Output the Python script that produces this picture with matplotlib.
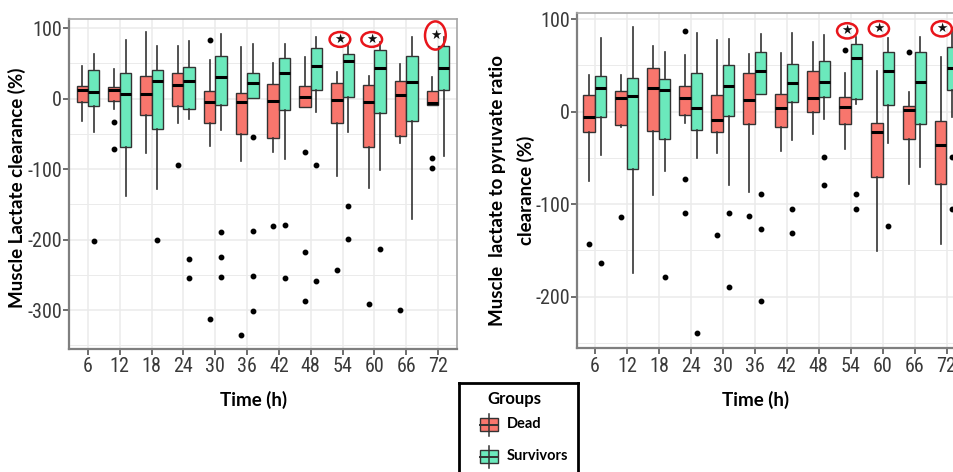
import numpy as np
import matplotlib
matplotlib.use("Agg")
import matplotlib.pyplot as plt
from matplotlib import font_manager
from matplotlib.patches import Ellipse, Rectangle

# ---------------------------------------------------------------
# data (box summaries per time point)
times = [6, 12, 18, 24, 30, 36, 42, 48, 54, 60, 66, 72]
xticks = times

# left panel: muscle lactate clearance
lac_dead_q3  = [18.5, 16.6, 32, 36.5, 11, 8, 20.4, 18, 22, 19, 25, 11]
lac_dead_q1  = [-4.3, -2.8, -22.7, -11, -34.6, -50.7, -56.4, -12.3, -35, -68.7, -52.6, -9.5]
lac_dead_med = [11.8, 12.3, 6.6, 20, -4.7, -5.2, -3.3, 2.8, -2.4, -4.7, 4.7, -5.7]
lac_dead_whi = [47, 41.7, 94, 75, 55, 73.5, 51, 58.8, 37.4, 32, 49, 31.3]
lac_dead_wlo = [-31, -14.7, -77.7, -35, -67, -89, -75, -12.3, -109.5, -126, -63.5, -9.5]
lac_dead_out = [[], [-33.6, -72], [], [-94], [83.4, -313], [-335], [-180.6],
                [-75, -217, -287], [-243], [-291], [-299], [-84, -98]]

lac_surv_q3  = [41, 37, 40.8, 44.5, 60.7, 37, 57, 72.5, 63, 69, 60.7, 75]
lac_surv_q1  = [-10.4, -68.7, -43, -14.2, -8.5, 1.4, -16, 12.3, 1.9, -21, -32, 11.8]
lac_surv_med = [9, 6.6, 24.6, 25.6, 31.3, 22.7, 37, 46, 54, 43.6, 23.7, 43.6]
lac_surv_whi = [63, 83.4, 75, 81.5, 91.5, 77, 77, 87.7, 78, 81, 87.7, 88]
lac_surv_wlo = [-47, -138, -128, -29, -44.5, 1.4, -85, -19.4, -47, -101, -170, -80.6]
lac_surv_out = [[-202], [], [-201], [-227, -255], [-189, -225, -253],
                [-55, -187, -251, -301], [-178.8, -255], [-94, -259],
                [-152, -198.6], [-212.7], [], []]

# right panel: lactate to pyruvate ratio clearance
lpr_dead_q3  = [17.6, 22.7, 47, 28, 17.6, 41.4, 19.4, 44, 16, -11.9, 6.5, -10.4]
lpr_dead_q1  = [-22, -14.4, -20.5, -3.2, -22, -13.7, -16, 0, -13.3, -70.5, -29, -77.7]
lpr_dead_med = [-6, 14.4, 26, 14.4, -9.4, 13, 4, 14.4, 5.4, -22.3, 1.8, -35.6]
lpr_dead_whi = [40, 40, 71, 61, 77, 62, 63.7, 75, 41.4, 43.5, 21, 59]
lpr_dead_wlo = [-75, -16, -90, -12, -44.6, -87, -42.8, -24, -40, -150.4, -77.7, -143]
lpr_dead_out = [[-143.5], [-113.7], [], [87.4, -72.7, -109], [-133], [-112.5],
                [], [], [66.5], [], [64.7], []]

lpr_surv_q3  = [38.5, 36.7, 35, 41.4, 50, 64.7, 51.8, 54.3, 72.7, 64.7, 64.7, 69.4]
lpr_surv_q1  = [-5.8, -62, -29.5, -19.4, -4.7, 18.7, 10.4, 16, 13.7, 7.2, -13, 23]
lpr_surv_med = [26, 17, 23.7, 4, 27.3, 44, 30.6, 31.6, 58.3, 44, 31.6, 47.5]
lpr_surv_whi = [79.5, 91.4, 65, 85.6, 78.4, 84.5, 85.6, 83, 81, 80, 81, 90]
lpr_surv_wlo = [-47, -174, -63.7, -50, -79.5, 18.7, -31, -7.6, 8.3, -33.8, -60, -5.8]
lpr_surv_out = [[-164], [], [-178.8], [-238.8], [-109, -189], [-88.5, -127, -205],
                [-105, -131.5], [-49, -79.5], [-88.5, -105], [-123], [], [-49, -105]]

# significance stars (x, y)
lac_star_x = [53.5, 59.5, 71.5]
lac_star_y = [84, 84, 89.6]
lpr_star_x = [53.35, 59.3, 71.1]
lpr_star_y = [87.4, 89.6, 89.6]

groups = ["Dead", "Survivors"]
colors = ["#F8766D", "#6BE9BC"]

# ---------------------------------------------------------------
W, H = 954, 472
fig = plt.figure(figsize=(W / 100, H / 100), dpi=100)

# condensed font for the tick numbers if one is around
have = {f.name for f in font_manager.fontManager.ttflist}
narrow = None
for cand in ["Liberation Sans Narrow", "Roboto Condensed", "DejaVu Sans Condensed",
             "Open Sans Condensed", "Noto Sans Condensed"]:
    if cand in have:
        narrow = cand
        break
if narrow:
    tick_font = [narrow, "DejaVu Sans"]
    tick_size = 14.5
else:
    tick_font = ["Liberation Sans", "DejaVu Sans"]
    tick_size = 12
lab_font = ["Lato", "DejaVu Sans"]


def stats(q1, med, q3, wlo, whi, out):
    return [dict(q1=a, med=b, q3=c, whislo=d, whishi=e, fliers=f)
            for a, b, c, d, e, f in zip(q1, med, q3, wlo, whi, out)]


def draw_panel(ax, dead, surv, yticks, ylim, xlim, sx, sy, ew, eh):
    ax.set_xlim(*xlim)
    ax.set_ylim(*ylim)
    ax.set_axisbelow(True)
    # grid like ggplot grey theme
    for y in np.arange(-350, 151, 50):
        ax.axhline(y, color="#ebebeb", lw=0.7 if y % 100 else 1.1, zorder=0)
    for t in xticks:
        ax.axvline(t, color="#ebebeb", lw=1.1, zorder=0)

    t = np.array(times, dtype=float)
    for st, pos, col in [(dead, t - 1.08, colors[0]), (surv, t + 1.08, colors[1])]:
        ax.bxp(st, positions=pos, widths=2.15, patch_artist=True,
               showcaps=False, manage_ticks=False,
               boxprops=dict(facecolor=col, edgecolor="#333333", lw=1.0),
               medianprops=dict(color="black", lw=2.2),
               whiskerprops=dict(color="#333333", lw=1.2),
               flierprops=dict(marker="o", markerfacecolor="black",
                               markeredgecolor="black", markersize=3.2))

    for x, y, h in zip(sx, sy, eh):
        ax.text(x, y, "\u2605", ha="center", va="center", fontsize=9,
                family="DejaVu Sans", color="#111111", zorder=6)
        ax.add_patch(Ellipse((x, y), ew, h, fill=False, edgecolor="#e8151b",
                             lw=1.8, zorder=6))

    ax.set_xticks(xticks)
    ax.set_xticklabels([str(v) for v in xticks], family=tick_font,
                       fontsize=tick_size, color="#3a3a3a")
    ax.set_yticks(yticks)
    ax.set_yticklabels([str(v) for v in yticks], family=tick_font,
                       fontsize=tick_size, color="#3a3a3a")
    ax.tick_params(length=4, width=1.2, color="#555555", pad=2)
    ax.tick_params(axis="y", pad=1)
    for s in ax.spines.values():
        s.set_color("#a6a6a6")
        s.set_linewidth(1.2)
    for s in ["left", "bottom"]:
        ax.spines[s].set_color("#7f7f7f")
        ax.spines[s].set_linewidth(1.6)


# left panel
ax1 = fig.add_axes([69 / W, 1 - 349 / H, 388 / W, 330 / H])
draw_panel(ax1,
           stats(lac_dead_q1, lac_dead_med, lac_dead_q3, lac_dead_wlo, lac_dead_whi, lac_dead_out),
           stats(lac_surv_q1, lac_surv_med, lac_surv_q3, lac_surv_wlo, lac_surv_whi, lac_surv_out),
           [100, 0, -100, -200, -300], (-355, 113), (2.42, 75.58),
           lac_star_x, lac_star_y, 3.9, [21, 21, 40])

# right panel (cut off at the right edge, as in the source image)
ax2 = fig.add_axes([576.7 / W, 1 - 348.3 / H, 389 / W, 335.6 / H])
draw_panel(ax2,
           stats(lpr_dead_q1, lpr_dead_med, lpr_dead_q3, lpr_dead_wlo, lpr_dead_whi, lpr_dead_out),
           stats(lpr_surv_q1, lpr_surv_med, lpr_surv_q3, lpr_surv_wlo, lpr_surv_whi, lpr_surv_out),
           [100, 0, -100, -200], (-255.7, 107), (2.57, 75.6),
           lpr_star_x, lpr_star_y, 3.8, [16.5, 16.5, 16.5])

# axis titles
fig.text(17 / W, 1 - 188 / H, "Muscle Lactate clearance (%)", rotation=90,
         ha="center", va="center", family=lab_font, fontweight="bold", fontsize=13.5)
fig.text(254 / W, 1 - 400 / H, "Time (h)", ha="center", va="center",
         family=lab_font, fontweight="bold", fontsize=13.5)
fig.text(498 / W, 1 - 190 / H, "Muscle  lactate to pyruvate ratio", rotation=90,
         ha="center", va="center", family=lab_font, fontweight="bold", fontsize=13.5)
fig.text(526 / W, 1 - 190 / H, "clearance (%)", rotation=90,
         ha="center", va="center", family=lab_font, fontweight="bold", fontsize=13.5)
fig.text(756 / W, 1 - 400 / H, "Time (h)", ha="center", va="center",
         family=lab_font, fontweight="bold", fontsize=13.5)

# legend box (bottom edge falls outside the image)
lg = fig.add_axes([459 / W, -0.05, (578 - 459) / W, (1 - 383 / H) + 0.05])
lg.set_xlim(459, 578)
lg.set_ylim(472 + 0.05 * H, 383)
lg.set_xticks([])
lg.set_yticks([])
for s in lg.spines.values():
    s.set_color("black")
    s.set_linewidth(2)
lg.text(514, 399, "Groups", ha="center", va="center", family=lab_font,
        fontweight="bold", fontsize=12)
for yc, name, col in [(424.5, groups[0], colors[0]), (456.5, groups[1], colors[1])]:
    lg.plot([489, 489], [yc - 11, yc + 11], color="#333333", lw=1.1)
    lg.add_patch(Rectangle((480, yc - 6.5), 18, 13, facecolor=col,
                           edgecolor="#333333", lw=1.0))
    lg.plot([480, 498], [yc, yc], color="#333333", lw=1.4)
    lg.text(507, yc, name, ha="left", va="center", family=lab_font,
            fontweight="bold", fontsize=10.5)

fig.savefig("out.png", dpi=100)
